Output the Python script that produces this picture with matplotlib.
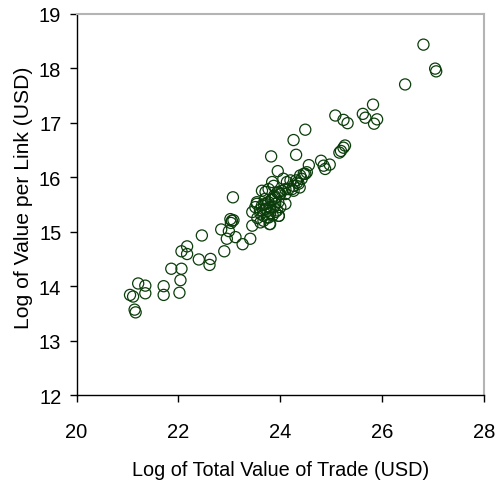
import matplotlib
matplotlib.use("Agg")
import matplotlib.pyplot as plt

plt.rcParams['font.family'] = ['Liberation Sans', 'DejaVu Sans']

# values
trade = [26.81, 27.04, 27.06, 26.45, 25.08, 25.24, 25.32, 25.82, 25.62, 25.67,
         25.90, 25.84, 25.27, 25.24, 25.19, 25.16, 24.97, 24.49, 24.26, 23.82,
         24.31, 24.80, 24.56, 24.85, 24.88, 23.95, 24.06, 24.20, 24.26, 24.36,
         24.42, 24.49, 24.52, 24.23, 24.38, 23.87, 23.64, 23.71, 23.99, 24.10,
         23.54, 23.51, 23.71, 23.80, 23.94, 23.97, 23.61, 23.67, 23.77, 23.61,
         23.79, 23.45, 23.41, 23.07, 23.54, 23.45, 23.02, 23.05, 23.03, 23.08,
         22.84, 22.99, 23.12, 22.95, 23.26, 22.90, 22.46, 22.63, 22.61, 22.40,
         22.17, 22.06, 22.17, 21.86, 22.06, 22.04, 22.02, 21.71, 21.71, 21.21,
         21.35, 21.35, 21.05, 21.11, 21.14, 21.16,
         23.90, 23.96, 23.84, 23.94, 24.03, 24.10, 24.16, 24.26, 24.39, 24.46,
         24.31, 23.84, 23.64, 23.71, 23.77, 23.87, 23.90, 23.80, 23.74, 23.67,
         23.80, 23.97, 24.00, 23.60, 23.75, 23.85, 23.70, 23.90, 24.00, 23.55,
         23.68, 24.13, 23.77, 23.97, 24.10, 23.82, 23.88, 24.33]
per_link = [18.43, 17.99, 17.94, 17.70, 17.13, 17.05, 16.99, 17.33, 17.16, 17.09,
            17.06, 16.98, 16.58, 16.54, 16.48, 16.45, 16.23, 16.87, 16.68, 16.38,
            16.41, 16.30, 16.22, 16.21, 16.15, 16.11, 15.97, 15.94, 15.84, 15.88,
            15.97, 16.06, 16.09, 15.78, 15.81, 15.84, 15.75, 15.73, 15.69, 15.51,
            15.51, 15.45, 15.42, 15.45, 15.39, 15.29, 15.33, 15.29, 15.26, 15.17,
            15.14, 15.11, 14.87, 15.63, 15.54, 15.36, 15.23, 15.20, 15.16, 15.21,
            15.04, 15.01, 14.90, 14.87, 14.77, 14.64, 14.93, 14.50, 14.39, 14.49,
            14.73, 14.64, 14.59, 14.32, 14.32, 14.11, 13.88, 14.00, 13.84, 14.05,
            14.01, 13.87, 13.84, 13.81, 13.57, 13.52,
            15.51, 15.54, 15.60, 15.72, 15.75, 15.69, 15.78, 15.75, 16.03, 16.06,
            15.94, 15.91, 15.48, 15.51, 15.54, 15.45, 15.36, 15.33, 15.26, 15.20,
            15.14, 15.29, 15.69, 15.40, 15.38, 15.30, 15.60, 15.62, 15.45, 15.25,
            15.50, 15.91, 15.78, 15.72, 15.78, 15.58, 15.66, 15.90]

fig = plt.figure(figsize=(4.97, 4.85), dpi=100)
ax = fig.add_axes([0.154, 0.183, 0.820, 0.787])

ax.scatter(trade, per_link, s=64, facecolors='none', edgecolors='#0b3d0b',
           linewidths=0.9)

ax.set_xlim(20, 28)
ax.set_ylim(12, 19)
ax.set_xticks([20, 22, 24, 26, 28])
ax.set_yticks(range(12, 20))

for side in ['top', 'right']:
    ax.spines[side].set_color('#b4b4b4')
    ax.spines[side].set_linewidth(1.5)
for side in ['left', 'bottom']:
    ax.spines[side].set_color('black')
    ax.spines[side].set_linewidth(1.0)

ax.tick_params(direction='out', length=5, width=1, labelsize=14.5)
ax.tick_params(axis='x', pad=14)
ax.tick_params(axis='y', pad=6)
ax.set_xlabel("Log of Total Value of Trade (USD)", fontsize=14.3, labelpad=14)
ax.set_ylabel("Log of Value per Link (USD)", fontsize=15.2)
ax.yaxis.set_label_coords(-0.108, 0.52)

fig.savefig("out.png", dpi=100)
